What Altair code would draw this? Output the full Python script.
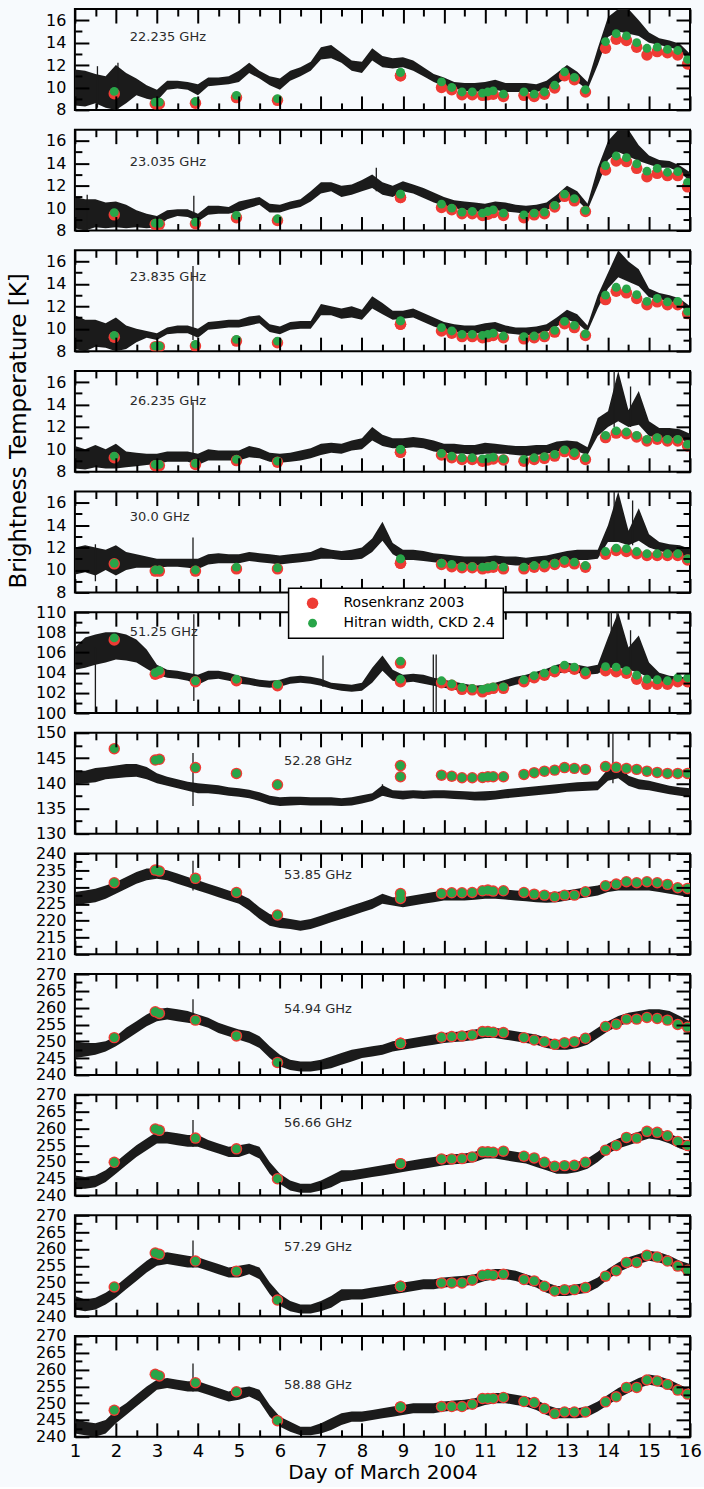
import altair as alt
import pandas as pd

# ---------------- data ----------------
DAYS = [1.0, 1.25, 1.5, 1.75, 2.0, 2.25, 2.5, 2.75, 3.0, 3.25,
        3.5, 3.75, 4.0, 4.25, 4.5, 4.75, 5.0, 5.25, 5.5, 5.75,
        6.0, 6.25, 6.5, 6.75, 7.0, 7.25, 7.5, 7.75, 8.0, 8.25,
        8.5, 8.75, 9.0, 9.25, 9.5, 9.75, 10.0, 10.25, 10.5, 10.75,
        11.0, 11.25, 11.5, 11.75, 12.0, 12.25, 12.5, 12.75, 13.0, 13.25,
        13.5, 13.75, 14.0, 14.25, 14.5, 14.75, 15.0, 15.25, 15.5, 15.75, 16.0]

MODEL_DAYS = [1.96, 2.96, 3.06, 3.94, 4.94, 5.94, 8.94, 8.94, 9.94, 10.19,
              10.44, 10.69, 10.94, 11.07, 11.2, 11.45, 11.95, 12.2, 12.45, 12.7,
              12.94, 13.18, 13.45, 13.94, 14.2, 14.45, 14.7, 14.95, 15.2, 15.45,
              15.7, 15.94]

FREQ = ["22.235 GHz", "23.035 GHz", "23.835 GHz", "26.235 GHz", "30.0 GHz", "51.25 GHz",
        "52.28 GHz", "53.85 GHz", "54.94 GHz", "56.66 GHz", "57.29 GHz", "58.88 GHz"]
LABEL_DAY = [2.34, 2.34, 2.34, 2.34, 2.34, 2.34, 6.1, 6.1, 6.1, 6.1, 6.1, 6.1]
LABEL_TB = [14.5, 14.1, 14.6, 14.3, 14.7, 108.0, 144.4, 233.6, 259.6, 261.6, 260.6, 255.4]

Y_DOMAIN = [[8, 17], [8, 17], [8, 17], [8, 17], [8, 17], [100, 110],
            [130, 150], [210, 240], [240, 270], [240, 270], [240, 270], [240, 270]]
Y_MAJOR_LOW = [8, 10, 12, 14, 16]
Y_MINOR_LOW = [9, 11, 13, 15]
Y_MAJOR_51 = [100, 102, 104, 106, 108, 110]
Y_MINOR_51 = [101, 103, 105, 107, 109]
Y_MAJOR_52 = [130, 135, 140, 145, 150]
Y_MINOR_52 = [132.5, 137.5, 142.5, 147.5]
Y_MAJOR_53 = [210, 215, 220, 225, 230, 235, 240]
Y_MINOR_53 = [212.5, 217.5, 222.5, 227.5, 232.5, 237.5]
Y_MAJOR_HI = [240, 245, 250, 255, 260, 265, 270]
Y_MINOR_HI = [242.5, 247.5, 252.5, 257.5, 262.5, 267.5]
X_MAJOR = [1, 2, 3, 4, 5, 6, 7, 8, 9, 10, 11, 12, 13, 14, 15, 16]
X_MINOR = [1.5, 2.5, 3.5, 4.5, 5.5, 6.5, 7.5, 8.5, 9.5, 10.5, 11.5, 12.5, 13.5, 14.5, 15.5]

# measured brightness temperature: lower / upper edge of the noisy trace
# (values that run off the top of a panel are recorded at the panel top)
LO_22235 = [8.4, 8.3, 8.6, 8.2, 8.0, 8.6, 9.3, 9.0, 8.8, 9.8,
            9.9, 9.8, 9.3, 10.1, 10.2, 10.3, 10.5, 11.3, 10.8, 10.2,
            9.8, 10.6, 11.0, 11.5, 12.5, 12.6, 12.2, 11.5, 11.3, 12.4,
            11.8, 11.7, 11.8, 11.5, 11.0, 10.5, 10.1, 9.9, 9.7, 9.6,
            9.7, 9.8, 9.6, 9.6, 9.6, 9.6, 9.8, 10.3, 10.9, 10.5,
            9.8, 12.0, 14.5, 15.0, 14.8, 14.6, 14.0, 13.8, 13.6, 13.3, 12.3]
HI_22235 = [11.6, 11.5, 11.2, 11.0, 12.0, 11.3, 10.8, 10.2, 9.8, 10.6,
            10.6, 10.5, 10.3, 10.9, 10.9, 11.0, 11.5, 12.2, 11.5, 11.0,
            10.8, 11.5, 11.8, 12.3, 13.6, 13.8, 13.1, 12.4, 12.3, 13.5,
            12.8, 12.6, 12.7, 12.4, 11.8, 11.2, 10.9, 10.5, 10.4, 10.4,
            10.5, 10.7, 10.4, 10.4, 10.4, 10.3, 10.6, 11.3, 12.0, 11.4,
            10.5, 13.5, 16.3, 17.0, 17.0, 16.0, 14.9, 14.4, 14.2, 13.9, 13.0]
LO_23035 = [8.2, 8.0, 8.3, 8.2, 8.3, 8.2, 8.3, 8.2, 8.3, 9.0,
            9.3, 9.2, 8.8, 9.4, 9.5, 9.5, 9.7, 10.0, 10.3, 9.6,
            9.6, 9.9, 10.1, 10.6, 11.3, 11.5, 11.0, 11.2, 11.5, 11.8,
            11.2, 11.0, 11.5, 11.3, 10.9, 10.5, 10.2, 10.0, 9.8, 9.7,
            9.6, 9.8, 9.7, 9.6, 9.5, 9.6, 9.8, 10.3, 11.0, 10.7,
            9.8, 12.0, 14.3, 15.0, 14.6, 14.2, 13.9, 13.6, 13.6, 13.2, 12.4]
HI_23035 = [11.0, 10.8, 10.8, 10.5, 10.6, 10.3, 9.8, 9.5, 9.3, 9.8,
            9.9, 9.9, 9.5, 10.2, 10.2, 10.1, 10.6, 10.8, 11.0, 10.4,
            10.3, 10.6, 10.8, 11.5, 12.3, 12.3, 12.0, 12.1, 12.5, 13.0,
            12.3, 12.0, 12.4, 12.1, 11.8, 11.4, 11.0, 10.7, 10.6, 10.5,
            10.4, 10.6, 10.5, 10.3, 10.2, 10.3, 10.5, 11.2, 12.0, 11.5,
            10.4, 13.6, 16.0, 17.0, 17.0, 15.6, 14.7, 14.3, 14.2, 13.8, 13.2]
LO_23835 = [8.2, 8.0, 8.4, 8.3, 8.0, 8.2, 8.8, 9.2, 9.0, 9.5,
            9.6, 9.6, 9.2, 9.9, 10.0, 10.1, 10.1, 10.3, 10.5, 9.7,
            9.5, 9.9, 10.0, 10.0, 11.2, 11.2, 10.9, 11.0, 10.8, 11.8,
            11.3, 10.8, 10.9, 11.0, 10.6, 10.2, 9.9, 9.7, 9.6, 9.6,
            9.6, 9.8, 9.6, 9.5, 9.4, 9.5, 9.7, 10.2, 10.8, 10.5,
            9.7, 11.8, 13.6, 14.6, 14.2, 13.8, 12.8, 12.6, 12.5, 12.1, 11.3]
HI_23835 = [11.2, 10.8, 10.8, 10.5, 11.0, 10.3, 10.0, 9.8, 9.6, 10.1,
            10.3, 10.3, 10.0, 10.6, 10.7, 10.8, 10.8, 11.1, 11.2, 10.4,
            10.2, 10.6, 10.7, 10.7, 12.2, 12.0, 11.8, 12.0, 11.7, 12.9,
            12.3, 11.6, 11.6, 11.8, 11.4, 11.0, 10.6, 10.4, 10.3, 10.3,
            10.5, 10.6, 10.3, 10.1, 10.1, 10.2, 10.4, 11.0, 11.7, 11.3,
            10.3, 13.0, 15.0, 17.0, 16.0, 15.3, 13.6, 13.2, 13.0, 12.7, 12.0]
LO_26235 = [8.3, 8.2, 8.4, 8.3, 8.3, 8.4, 8.5, 8.6, 8.7, 8.9,
            8.9, 8.9, 8.6, 9.0, 9.0, 9.0, 9.0, 9.3, 9.2, 8.9,
            8.8, 8.9, 9.0, 9.2, 9.5, 9.7, 9.6, 9.9, 10.0, 10.8,
            10.3, 10.1, 10.1, 10.2, 10.1, 9.8, 9.7, 9.6, 9.6, 9.5,
            9.6, 9.6, 9.6, 9.5, 9.4, 9.5, 9.6, 9.8, 9.9, 9.8,
            9.5, 11.2, 12.0, 12.5, 12.0, 12.2, 11.2, 11.0, 11.0, 10.9, 10.6]
HI_26235 = [10.3, 10.0, 10.4, 10.0, 10.5, 9.8, 9.7, 9.6, 9.6, 9.8,
            9.8, 9.8, 9.6, 10.0, 9.9, 9.9, 9.9, 10.3, 10.1, 9.7,
            9.6, 9.7, 9.9, 10.1, 10.5, 10.6, 10.5, 10.8, 11.0, 12.0,
            11.3, 11.0, 11.0, 11.1, 11.0, 10.8, 10.5, 10.5, 10.4, 10.4,
            10.6, 10.5, 10.4, 10.3, 10.3, 10.4, 10.4, 10.7, 10.8, 10.7,
            10.2, 12.8, 13.4, 17.0, 13.5, 15.2, 12.5, 11.9, 11.9, 11.8, 11.4]
LO_30000 = [9.6, 9.8, 9.5, 10.0, 9.5, 10.0, 10.2, 10.2, 10.2, 10.3,
            10.3, 10.2, 10.1, 10.5, 10.6, 10.6, 10.6, 10.8, 10.7, 10.6,
            10.5, 10.6, 10.7, 10.8, 11.0, 11.0, 10.9, 10.9, 11.0, 11.6,
            12.6, 11.4, 10.9, 10.9, 10.8, 10.7, 10.6, 10.5, 10.5, 10.4,
            10.4, 10.5, 10.5, 10.4, 10.4, 10.5, 10.6, 10.7, 10.8, 10.9,
            10.9, 11.0, 12.5, 12.5, 12.2, 12.6, 12.0, 11.7, 11.5, 11.3, 11.0]
HI_30000 = [12.0, 12.2, 12.0, 11.8, 12.2, 11.6, 11.4, 11.2, 11.0, 11.0,
            11.0, 11.0, 11.0, 11.4, 11.5, 11.4, 11.4, 11.6, 11.5, 11.4,
            11.3, 11.4, 11.5, 11.6, 12.0, 11.8, 11.7, 11.8, 12.0, 12.8,
            14.3, 12.4, 11.8, 11.8, 11.7, 11.5, 11.4, 11.3, 11.2, 11.2,
            11.2, 11.3, 11.2, 11.2, 11.1, 11.2, 11.3, 11.5, 11.7, 11.8,
            11.8, 11.8, 14.0, 17.0, 13.5, 15.5, 13.2, 12.5, 12.3, 12.2, 11.9]
LO_51250 = [104.3, 104.5, 104.8, 105.0, 105.3, 105.2, 105.0, 104.4, 103.8, 103.5,
            103.4, 103.2, 102.8, 103.3, 103.4, 103.2, 102.9, 102.8, 102.6, 102.5,
            102.6, 102.9, 103.0, 102.9, 102.7, 102.4, 102.2, 102.1, 102.2, 103.0,
            104.2, 103.2, 103.0, 103.1, 102.9, 102.7, 102.5, 102.3, 102.1, 102.0,
            101.9, 102.2, 102.5, 102.8, 103.0, 103.3, 103.6, 103.9, 104.1, 104.0,
            103.8, 103.9, 104.5, 104.5, 104.3, 104.0, 103.5, 103.1, 102.9, 102.9, 102.8]
HI_51250 = [106.5, 107.5, 107.8, 108.0, 108.0, 107.8, 107.3, 106.3, 104.8, 104.3,
            104.2, 104.0, 103.8, 104.2, 104.2, 104.0, 103.7, 103.5, 103.3, 103.2,
            103.3, 103.6, 103.7, 103.6, 103.4, 103.0, 102.9, 102.8, 103.0, 104.5,
            105.7, 104.3, 103.8, 103.9, 103.8, 103.5, 103.3, 103.1, 102.9, 102.7,
            102.8, 103.0, 103.3, 103.6, 103.8, 104.1, 104.4, 104.8, 105.0, 104.8,
            104.6, 104.8, 107.5, 110.0, 106.5, 107.7, 105.0, 104.0, 103.7, 103.6, 103.5]
LO_52280 = [139.8, 140.0, 140.2, 140.8, 141.0, 141.2, 141.3, 140.8, 140.0, 139.5,
            139.0, 138.5, 138.0, 138.0, 137.8, 137.5, 137.3, 137.0, 136.5, 135.8,
            135.5, 135.6, 135.7, 135.6, 135.6, 135.6, 135.5, 135.6, 136.0, 136.5,
            137.5, 137.0, 136.8, 137.0, 136.9, 137.0, 137.0, 136.9, 136.8, 136.6,
            136.6, 136.8, 137.0, 137.2, 137.4, 137.6, 137.8, 138.0, 138.3, 138.4,
            138.5, 138.6, 140.5, 141.0, 139.5, 138.8, 138.6, 138.2, 137.8, 137.5, 137.2]
HI_52280 = [142.5, 142.5, 143.0, 143.2, 143.5, 143.8, 143.8, 143.2, 142.0, 141.3,
            140.8, 140.3, 140.0, 139.8, 139.6, 139.2, 139.0, 138.7, 138.2, 137.5,
            137.2, 137.3, 137.3, 137.2, 137.2, 137.2, 137.0, 137.2, 137.6, 138.0,
            139.6, 138.6, 138.5, 138.6, 138.5, 138.6, 138.6, 138.5, 138.4, 138.3,
            138.4, 138.5, 138.8, 139.0, 139.2, 139.4, 139.6, 139.8, 140.0, 140.2,
            140.3, 140.4, 142.8, 143.5, 141.5, 140.8, 140.5, 140.0, 139.5, 139.2, 139.0]
LO_53850 = [224.5, 225.0, 225.5, 226.5, 228.0, 229.5, 231.0, 232.0, 232.5, 232.0,
            231.0, 230.0, 229.0, 228.0, 227.0, 226.0, 225.0, 223.0, 220.5, 218.5,
            217.8, 217.5, 217.0, 217.5, 218.5, 219.5, 220.5, 221.5, 222.5, 223.5,
            225.0, 224.5, 224.0, 224.5, 225.0, 225.5, 226.0, 226.0, 226.0, 226.2,
            226.5, 226.5, 226.3, 226.0, 225.8, 225.5, 225.3, 225.5, 226.0, 226.5,
            227.0, 227.5, 228.5, 229.0, 229.0, 229.0, 229.0, 228.5, 228.0, 227.5, 227.0]
HI_53850 = [228.5, 229.0, 229.5, 230.5, 231.5, 233.0, 234.5, 235.5, 235.5, 235.0,
            234.0, 233.0, 232.0, 231.0, 230.0, 229.0, 228.0, 226.5, 224.0, 222.0,
            221.0, 220.5, 220.0, 220.5, 221.5, 222.5, 223.5, 224.5, 225.5, 226.5,
            228.0, 227.0, 227.0, 227.5, 228.0, 228.5, 229.0, 229.0, 229.0, 229.2,
            229.5, 229.5, 229.3, 229.0, 228.8, 228.5, 228.3, 228.5, 229.0, 229.5,
            230.0, 230.5, 231.5, 232.0, 232.0, 232.0, 232.0, 231.5, 231.0, 230.5, 230.0]
LO_54940 = [245.0, 245.5, 246.0, 247.0, 248.5, 250.5, 252.5, 254.5, 256.0, 256.5,
            256.0, 255.5, 255.0, 254.0, 252.5, 251.5, 250.5, 249.5, 248.0, 245.0,
            242.5, 241.5, 241.0, 241.0, 241.5, 242.0, 243.0, 244.0, 245.0, 245.5,
            246.0, 247.0, 247.5, 248.0, 248.5, 249.0, 249.5, 249.8, 250.0, 250.5,
            251.0, 251.0, 250.5, 250.0, 249.5, 249.0, 248.0, 247.5, 247.5, 248.0,
            249.0, 251.0, 253.0, 254.5, 255.5, 256.0, 256.5, 256.5, 256.0, 254.5, 253.0]
HI_54940 = [250.0, 249.5, 249.5, 250.0, 251.5, 254.0, 256.0, 258.0, 259.5, 260.0,
            259.5, 259.0, 258.0, 257.0, 255.5, 254.5, 253.5, 253.0, 251.5, 248.5,
            246.0, 244.5, 244.0, 244.0, 244.5, 245.5, 246.5, 247.5, 248.0, 248.5,
            249.0, 250.0, 250.5, 251.0, 251.5, 252.0, 252.5, 252.8, 253.0, 253.5,
            254.0, 254.0, 253.5, 253.0, 252.5, 252.0, 251.0, 250.5, 250.5, 251.0,
            252.0, 254.0, 256.0, 257.5, 258.5, 259.0, 259.5, 259.5, 259.0, 257.5, 256.0]
LO_56660 = [242.0, 242.0, 242.5, 244.0, 246.5, 249.0, 251.5, 253.5, 255.5, 255.5,
            255.0, 254.5, 254.5, 253.5, 252.5, 251.5, 251.5, 252.5, 251.0, 246.5,
            243.5, 241.5, 240.8, 240.8, 241.5, 242.5, 244.0, 244.5, 245.0, 245.5,
            246.0, 246.5, 247.0, 247.5, 248.0, 248.5, 249.0, 249.3, 249.5, 250.0,
            251.0, 251.0, 250.5, 250.0, 249.5, 248.5, 247.5, 246.5, 246.5, 247.0,
            248.0, 250.0, 252.5, 254.0, 255.0, 256.0, 257.0, 256.5, 255.5, 254.0, 253.0]
HI_56660 = [246.0, 245.5, 246.0, 247.5, 250.0, 252.5, 255.0, 257.0, 259.0, 259.0,
            258.5, 258.0, 258.0, 256.5, 255.5, 254.5, 255.0, 255.5, 254.5, 250.0,
            246.5, 244.5, 243.5, 243.5, 244.5, 246.0, 247.5, 247.5, 248.0, 248.5,
            249.0, 249.5, 250.0, 250.5, 251.0, 251.5, 252.0, 252.3, 252.5, 253.0,
            254.0, 254.0, 253.5, 253.0, 252.5, 251.5, 250.5, 249.5, 249.5, 250.0,
            251.0, 253.0, 255.5, 257.0, 258.0, 259.0, 260.0, 259.5, 258.5, 257.0, 256.0]
LO_57290 = [242.0, 241.5, 242.0, 243.5, 245.5, 248.0, 250.5, 253.0, 255.0, 255.5,
            255.0, 254.5, 254.5, 253.5, 252.5, 251.5, 251.5, 252.5, 251.0, 246.5,
            243.0, 241.5, 240.8, 240.8, 241.5, 242.5, 244.5, 245.0, 245.0, 245.5,
            246.0, 246.5, 247.0, 247.5, 248.0, 248.0, 248.5, 248.8, 249.0, 249.5,
            250.5, 251.0, 251.0, 250.5, 249.5, 248.5, 247.0, 246.0, 246.0, 246.5,
            247.0, 248.5, 251.0, 253.0, 254.5, 255.5, 256.5, 256.0, 255.0, 253.5, 252.5]
HI_57290 = [246.0, 245.0, 245.5, 247.0, 249.0, 251.5, 254.0, 256.5, 258.5, 259.0,
            258.5, 258.0, 257.5, 256.5, 255.5, 254.5, 255.0, 255.5, 254.5, 250.0,
            246.5, 244.5, 243.5, 243.5, 244.5, 246.0, 248.0, 248.0, 248.0, 248.5,
            249.0, 249.5, 250.0, 250.5, 251.0, 251.0, 251.5, 251.8, 252.0, 252.5,
            253.5, 254.0, 254.0, 253.5, 252.5, 251.5, 250.0, 249.0, 249.0, 249.5,
            250.0, 251.5, 254.0, 256.0, 257.5, 258.5, 259.5, 259.0, 258.0, 256.5, 255.5]
LO_58880 = [241.0, 240.5, 240.0, 241.0, 244.0, 246.5, 249.0, 251.5, 254.0, 254.5,
            254.0, 253.5, 253.5, 252.5, 251.5, 250.5, 251.0, 252.0, 250.5, 246.0,
            243.0, 241.5, 240.5, 240.5, 241.0, 242.0, 243.5, 244.5, 244.5, 245.0,
            245.5, 246.0, 246.5, 247.0, 247.0, 247.0, 247.5, 247.8, 248.0, 248.5,
            249.5, 250.0, 250.0, 249.5, 249.0, 248.0, 246.5, 245.5, 245.5, 245.5,
            246.0, 247.5, 249.5, 251.5, 253.0, 254.5, 255.5, 255.0, 254.0, 252.5, 251.0]
HI_58880 = [245.5, 244.5, 244.0, 245.0, 248.0, 250.0, 252.5, 255.0, 257.0, 257.5,
            257.0, 256.5, 256.5, 255.5, 254.5, 253.5, 254.5, 255.0, 254.0, 249.5,
            246.0, 244.5, 243.0, 243.0, 244.0, 245.5, 247.0, 247.5, 247.5, 248.0,
            248.5, 249.0, 249.5, 250.0, 250.0, 250.0, 250.5, 250.8, 251.0, 251.5,
            252.5, 253.0, 253.0, 252.5, 252.0, 251.0, 249.5, 248.5, 248.5, 248.5,
            249.0, 250.5, 252.5, 254.5, 256.0, 257.5, 258.5, 258.0, 257.0, 255.5, 254.0]

# narrow spikes of the measured trace: day, low, high
SPIKE_DAY = [[1.55, 2.05], [1.3, 3.9, 8.35], [3.88], [3.88, 14.15, 14.55],
             [1.5, 3.88, 14.15, 14.6],
             [1.5, 3.9, 7.05, 9.74, 9.81, 14.08, 14.22, 14.55],
             [3.88, 8.5, 14.12], [3.88], [3.88], [3.88], [3.88], [3.88]]
SPIKE_LO = [[8.2, 8.0], [8.0, 8.8, 11.5], [9.0], [8.6, 12.0, 12.0],
            [9.0, 10.0, 12.5, 12.2],
            [100.0, 101.2, 102.6, 100.0, 100.0, 104.5, 104.3, 104.0],
            [135.5, 137.5, 140.0], [229.0], [255.0], [254.5], [254.5], [253.5]]
SPIKE_HI = [[11.9, 12.2], [11.2, 11.1, 13.6], [15.6], [14.2, 17.0, 15.6],
            [12.3, 12.9, 17.0, 16.2],
            [106.5, 109.8, 105.7, 105.8, 105.8, 110.0, 110.0, 108.2],
            [146.0, 139.8, 150.0], [237.8], [262.5], [262.5], [262.5], [261.8]]

# model values (Rosenkranz 2003 / Hitran width, CKD 2.4) at MODEL_DAYS
ROS_22235 = [9.45, 8.55, 8.55, 8.6, 9.1, 8.85, 11.05, 11.05, 10.0, 9.8, 9.35, 9.35, 9.3, 9.35, 9.4, 9.2,
             9.3, 9.2, 9.4, 9.95, 11.05, 10.7, 9.6, 13.5, 14.3, 14.2, 13.6, 12.9, 13.2, 13.1, 12.9, 12.1]
HIT_22235 = [9.65, 8.7, 8.7, 8.75, 9.3, 9.0, 11.35, 11.35, 10.5, 10.0, 9.6, 9.6, 9.5, 9.6, 9.7, 9.4,
             9.6, 9.4, 9.6, 10.2, 11.4, 10.9, 9.8, 14.1, 14.8, 14.6, 14.0, 13.5, 13.6, 13.4, 13.3, 12.5]
ROS_23035 = [9.4, 8.55, 8.55, 8.6, 9.15, 8.9, 10.95, 10.95, 10.05, 9.85, 9.5, 9.5, 9.35, 9.45, 9.6, 9.35,
             9.15, 9.4, 9.5, 10.1, 11.05, 10.65, 9.7, 13.4, 14.2, 14.15, 13.55, 12.8, 13.1, 12.9, 12.9, 11.9]
HIT_23035 = [9.6, 8.65, 8.65, 8.75, 9.35, 9.05, 11.25, 11.25, 10.35, 10.0, 9.65, 9.7, 9.55, 9.7, 9.85, 9.55,
             9.4, 9.55, 9.65, 10.25, 11.25, 10.85, 9.8, 13.8, 14.65, 14.5, 13.95, 13.3, 13.55, 13.2, 13.25, 12.3]
ROS_23835 = [9.25, 8.4, 8.4, 8.45, 8.9, 8.75, 10.4, 10.4, 9.8, 9.6, 9.3, 9.3, 9.2, 9.3, 9.4, 9.2,
             9.1, 9.2, 9.3, 9.7, 10.45, 10.1, 9.4, 12.6, 13.35, 13.2, 12.7, 12.15, 12.4, 12.15, 12.15, 11.35]
HIT_23835 = [9.4, 8.45, 8.45, 8.6, 9.05, 8.9, 10.7, 10.7, 10.1, 9.8, 9.5, 9.5, 9.4, 9.5, 9.6, 9.35,
             9.3, 9.35, 9.4, 9.85, 10.65, 10.3, 9.55, 13.0, 13.7, 13.55, 13.05, 12.45, 12.7, 12.4, 12.45, 11.55]
ROS_26235 = [9.25, 8.55, 8.55, 8.65, 9.0, 8.85, 9.75, 9.75, 9.5, 9.25, 9.1, 9.1, 8.95, 9.05, 9.15, 9.05,
             8.95, 9.1, 9.2, 9.4, 9.8, 9.55, 9.1, 11.05, 11.45, 11.4, 11.1, 10.75, 10.9, 10.75, 10.75, 10.3]
HIT_26235 = [9.4, 8.65, 8.65, 8.75, 9.1, 8.95, 10.0, 10.0, 9.65, 9.4, 9.25, 9.25, 9.15, 9.2, 9.3, 9.15,
             9.1, 9.25, 9.35, 9.55, 9.95, 9.7, 9.25, 11.25, 11.65, 11.55, 11.25, 10.9, 11.05, 10.9, 10.9, 10.45]
ROS_30000 = [10.55, 9.9, 9.9, 9.9, 10.1, 10.1, 10.6, 10.6, 10.5, 10.3, 10.2, 10.2, 10.1, 10.2, 10.25, 10.1,
             10.1, 10.25, 10.3, 10.5, 10.7, 10.55, 10.25, 11.4, 11.75, 11.65, 11.45, 11.3, 11.3, 11.3, 11.3, 10.9]
HIT_30000 = [10.6, 10.0, 10.0, 10.0, 10.25, 10.2, 11.0, 11.0, 10.6, 10.5, 10.3, 10.3, 10.25, 10.3, 10.4, 10.25,
             10.25, 10.4, 10.5, 10.6, 10.85, 10.7, 10.4, 11.65, 11.95, 11.9, 11.65, 11.45, 11.45, 11.45, 11.45, 11.0]
ROS_51250 = [107.25, 103.85, 104.0, 103.1, 103.2, 102.7, 104.95, 103.1, 103.0, 102.75, 102.35, 102.3, 102.1,
             102.35, 102.45, 102.45, 103.1, 103.5, 103.75, 104.1, 104.5, 104.35, 103.9, 104.2, 104.1, 103.95,
             103.35, 102.85, 102.85, 102.85, 103.1, 103.1]
HIT_51250 = [107.45, 104.0, 104.2, 103.2, 103.35, 102.85, 105.15, 103.35, 103.2, 102.9, 102.55, 102.45, 102.35,
             102.5, 102.6, 102.6, 103.3, 103.7, 103.95, 104.3, 104.75, 104.55, 104.1, 104.6, 104.55, 104.2,
             103.75, 103.35, 103.3, 103.2, 103.5, 103.5]
ROS_52280 = [146.85, 144.6, 144.75, 143.1, 141.95, 139.7, 143.5, 141.3, 141.6, 141.4, 141.1, 141.1, 141.15,
             141.3, 141.3, 141.3, 141.75, 142.1, 142.4, 142.6, 143.1, 142.95, 142.75, 143.3, 143.15, 142.95,
             142.75, 142.4, 142.15, 141.95, 141.95, 141.95]
HIT_52280 = [146.85, 144.6, 144.75, 143.1, 141.95, 139.7, 143.5, 141.3, 141.6, 141.4, 141.1, 141.1, 141.15,
             141.3, 141.3, 141.3, 141.75, 142.1, 142.4, 142.6, 143.1, 142.95, 142.75, 143.3, 143.15, 142.95,
             142.75, 142.4, 142.15, 141.95, 141.95, 141.95]
ROS_53850 = [231.3, 235.05, 234.75, 232.6, 228.4, 221.7, 228.1, 226.6, 228.1, 228.3, 228.3, 228.4, 228.9,
             229.1, 228.8, 228.9, 228.4, 227.9, 227.6, 227.1, 227.6, 227.6, 228.6, 230.4, 230.9, 231.6,
             231.3, 231.6, 231.3, 230.8, 229.8, 229.6]
HIT_53850 = [231.3, 235.05, 234.75, 232.6, 228.4, 221.7, 228.1, 226.6, 228.1, 228.3, 228.3, 228.4, 228.9,
             229.1, 228.8, 228.9, 228.4, 227.9, 227.6, 227.1, 227.6, 227.6, 228.6, 230.4, 230.9, 231.6,
             231.3, 231.6, 231.3, 230.8, 229.8, 229.6]
ROS_54940 = [251.1, 258.8, 258.3, 256.3, 251.6, 243.7, 249.4, 249.4, 251.2, 251.4, 251.6, 251.9, 252.9,
             252.9, 252.7, 252.6, 251.1, 250.4, 249.9, 249.1, 249.6, 249.9, 250.9, 254.4, 255.1, 256.6,
             256.6, 257.1, 256.8, 256.3, 255.0, 254.2]
HIT_54940 = [251.1, 258.8, 258.3, 256.3, 251.6, 243.7, 249.4, 249.4, 251.2, 251.4, 251.6, 251.9, 252.9,
             252.9, 252.7, 252.6, 251.1, 250.4, 249.9, 249.1, 249.6, 249.9, 250.9, 254.4, 255.1, 256.6,
             256.6, 257.1, 256.8, 256.3, 255.0, 254.2]
ROS_56660 = [249.9, 259.8, 259.4, 257.1, 253.9, 245.0, 249.5, 249.5, 250.9, 250.9, 251.0, 251.5, 253.0,
             253.0, 252.9, 253.2, 251.7, 251.2, 249.9, 248.7, 248.9, 249.0, 249.9, 253.5, 254.9, 257.3,
             257.1, 259.1, 258.8, 257.8, 256.1, 254.9]
HIT_56660 = [249.9, 259.8, 259.4, 257.1, 253.9, 245.0, 249.5, 249.5, 250.9, 250.9, 251.0, 251.5, 253.0,
             253.0, 252.9, 253.2, 251.7, 251.2, 249.9, 248.7, 248.9, 249.0, 249.9, 253.5, 254.9, 257.3,
             257.1, 259.1, 258.8, 257.8, 256.1, 254.9]
ROS_57290 = [248.7, 258.8, 258.4, 256.4, 253.4, 244.8, 248.9, 248.9, 249.9, 249.9, 249.9, 250.7, 252.2,
             252.4, 252.2, 252.5, 250.9, 250.5, 248.9, 247.5, 247.9, 247.9, 248.5, 251.9, 253.5, 256.0,
             256.0, 258.1, 257.6, 256.4, 254.9, 253.7]
HIT_57290 = [248.7, 258.8, 258.4, 256.4, 253.4, 244.8, 248.9, 248.9, 249.9, 249.9, 249.9, 250.7, 252.2,
             252.4, 252.2, 252.5, 250.9, 250.5, 248.9, 247.5, 247.9, 247.9, 248.5, 251.9, 253.5, 256.0,
             256.0, 258.1, 257.6, 256.4, 254.9, 253.7]
ROS_58880 = [247.9, 258.6, 258.1, 256.1, 253.4, 244.8, 248.9, 248.9, 249.0, 249.0, 249.0, 249.7, 251.4,
             251.4, 251.4, 251.7, 250.5, 250.2, 248.4, 246.9, 247.4, 247.4, 247.4, 250.4, 251.9, 254.7,
             254.7, 256.9, 256.6, 255.6, 253.9, 252.7]
HIT_58880 = [247.9, 258.6, 258.1, 256.1, 253.4, 244.8, 248.9, 248.9, 249.0, 249.0, 249.0, 249.7, 251.4,
             251.4, 251.4, 251.7, 250.5, 250.2, 248.4, 246.9, 247.4, 247.4, 247.4, 250.4, 251.9, 254.7,
             254.7, 256.9, 256.6, 255.6, 253.9, 252.7]

LOS = [LO_22235, LO_23035, LO_23835, LO_26235, LO_30000, LO_51250,
       LO_52280, LO_53850, LO_54940, LO_56660, LO_57290, LO_58880]
HIS = [HI_22235, HI_23035, HI_23835, HI_26235, HI_30000, HI_51250,
       HI_52280, HI_53850, HI_54940, HI_56660, HI_57290, HI_58880]
ROS = [ROS_22235, ROS_23035, ROS_23835, ROS_26235, ROS_30000, ROS_51250,
       ROS_52280, ROS_53850, ROS_54940, ROS_56660, ROS_57290, ROS_58880]
HIT = [HIT_22235, HIT_23035, HIT_23835, HIT_26235, HIT_30000, HIT_51250,
       HIT_52280, HIT_53850, HIT_54940, HIT_56660, HIT_57290, HIT_58880]
Y_MAJOR = [Y_MAJOR_LOW] * 5 + [Y_MAJOR_51, Y_MAJOR_52, Y_MAJOR_53] + [Y_MAJOR_HI] * 4
Y_MINOR = [Y_MINOR_LOW] * 5 + [Y_MINOR_51, Y_MINOR_52, Y_MINOR_53] + [Y_MINOR_HI] * 4

for arr in LOS + HIS:
    assert len(arr) == len(DAYS), len(arr)
for arr in ROS + HIT:
    assert len(arr) == len(MODEL_DAYS), len(arr)

# ---------------- styling ----------------
FONT = "DejaVu Sans"
RED = "#ee3b34"
GREEN = "#28a548"
TRACE = "#1b1b1b"
MODELS = ["Rosenkranz 2003", "Hitran width, CKD 2.4"]
PANEL_W = 616
PANEL_H = 101
MAJ = 14
MIN = 7

legend = alt.Legend(orient="none", legendX=214, legendY=580, title=None,
                    strokeColor="black", fillColor="white", padding=8,
                    labelFont=FONT, labelFontSize=14, labelColor="black",
                    symbolStrokeWidth=0, symbolType="circle", rowPadding=6,
                    labelOffset=24, symbolOffset=9)
color_scale = alt.Scale(domain=MODELS, range=[RED, GREEN])
size_scale = alt.Scale(domain=MODELS, range=[132, 78])


def tick_axis(orient, size, values, **kw):
    base = dict(orient=orient, offset=-size, tickSize=size, values=values,
                domain=False, grid=False, ticks=True, tickWidth=2,
                tickColor="black", zindex=1, labels=False, title=None,
                minExtent=1, maxExtent=200)
    base.update(kw)
    return alt.Axis(**base)


def panel(i, last):
    xs = alt.Scale(domain=[1, 16], nice=False, zero=False)
    ys = alt.Scale(domain=Y_DOMAIN[i], nice=False, zero=False)

    xlab = dict(labels=True, labelFont=FONT, labelFontSize=18, labelPadding=6,
                labelColor="black", labelFlush=False, labelOverlap=False,
                title="Day of March 2004", titleFont=FONT, titleFontSize=20,
                titleFontWeight="normal", titleColor="black", titlePadding=2) if last else {}
    ylab = dict(labels=True, labelFont=FONT, labelFontSize=16, labelPadding=9,
                labelColor="black", labelFlush=False, labelOverlap=False)
    if i == 3:
        ylab.update(title="Brightness Temperature [K]", titleFont=FONT, titleFontSize=23,
                    titleFontWeight="normal", titleColor="black", titleX=-63,
                    titleY=59.6, titleAngle=270, titleAlign="center",
                    titleBaseline="alphabetic")

    band_df = pd.DataFrame({"day": DAYS, "lo": LOS[i], "hi": HIS[i]})
    spike_df = pd.DataFrame({"day": SPIKE_DAY[i], "lo": SPIKE_LO[i], "hi": SPIKE_HI[i]})
    red_df = pd.DataFrame({"day": MODEL_DAYS, "tb": ROS[i], "model": MODELS[0]})
    green_df = pd.DataFrame({"day": MODEL_DAYS, "tb": HIT[i], "model": MODELS[1]})
    text_df = pd.DataFrame({"day": [LABEL_DAY[i]], "tb": [LABEL_TB[i]], "text": [FREQ[i]]})

    band = alt.Chart(band_df).mark_area(color=TRACE, clip=True).encode(
        x=alt.X("day:Q", scale=xs, axis=tick_axis("bottom", MAJ, X_MAJOR, **xlab)),
        y=alt.Y("lo:Q", scale=ys, axis=tick_axis("left", MAJ, Y_MAJOR[i], **ylab)),
        y2="hi:Q",
    )
    spikes = alt.Chart(spike_df).mark_rule(color=TRACE, strokeWidth=1.3, clip=True).encode(
        x=alt.X("day:Q", scale=xs, axis=None),
        y=alt.Y("lo:Q", scale=ys, axis=None),
        y2="hi:Q",
    )
    red = alt.Chart(red_df).mark_circle(opacity=1, clip=True).encode(
        x=alt.X("day:Q", scale=xs, axis=tick_axis("bottom", MIN, X_MINOR)),
        y=alt.Y("tb:Q", scale=ys, axis=tick_axis("left", MIN, Y_MINOR[i])),
        color=alt.Color("model:N", scale=color_scale, legend=legend),
        size=alt.Size("model:N", scale=size_scale, legend=legend),
    )
    green = alt.Chart(green_df).mark_circle(opacity=1, clip=True).encode(
        x=alt.X("day:Q", scale=xs, axis=tick_axis("top", MAJ, X_MAJOR)),
        y=alt.Y("tb:Q", scale=ys, axis=tick_axis("right", MAJ, Y_MAJOR[i])),
        color=alt.Color("model:N", scale=color_scale, legend=legend),
        size=alt.Size("model:N", scale=size_scale, legend=legend),
    )
    label = alt.Chart(text_df).mark_text(align="left", baseline="middle", font=FONT,
                                         fontSize=13, color="#2b2b2b").encode(
        x=alt.X("day:Q", scale=xs, axis=tick_axis("top", MIN, X_MINOR)),
        y=alt.Y("tb:Q", scale=ys, axis=tick_axis("right", MIN, Y_MINOR[i])),
        text="text:N",
    )
    return alt.layer(band, spikes, red, green, label).resolve_axis(
        x="independent", y="independent").properties(width=PANEL_W, height=PANEL_H)


panels = [panel(i, i == 11) for i in range(12)]

chart = alt.vconcat(*panels, spacing=19.8, bounds="flush").resolve_scale(
    x="independent", y="independent", color="shared", size="shared"
).resolve_legend(color="shared", size="shared").properties(
    background="#f7fafd",
    padding={"left": 6, "top": 6, "right": 1, "bottom": 2},
).configure_view(stroke="black", strokeWidth=2).configure_legend(strokeWidth=1.5)

chart.save("out.html", embed_options={"renderer": "svg", "actions": False})
